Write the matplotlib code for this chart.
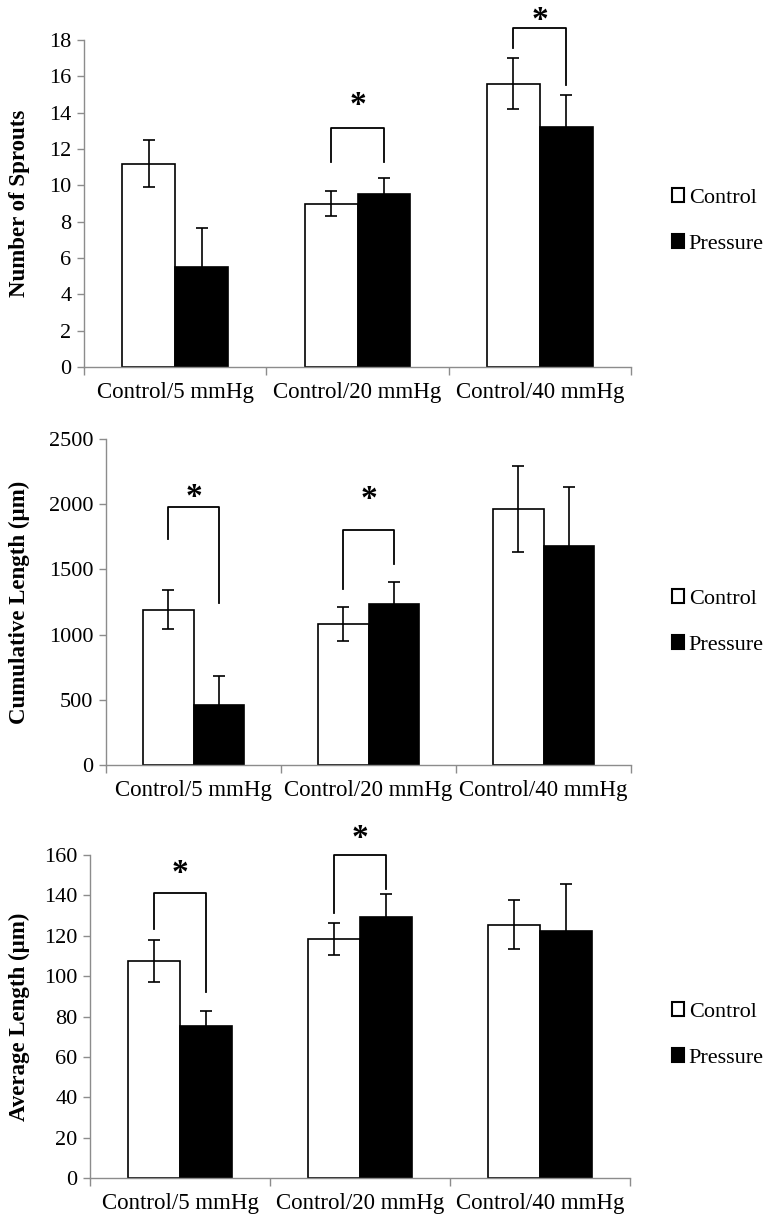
import matplotlib
matplotlib.use("Agg")
import matplotlib.pyplot as plt
from matplotlib.patches import Patch
from matplotlib.transforms import blended_transform_factory

plt.rcParams['font.family'] = ['Liberation Serif', 'DejaVu Serif']

groups = ['Control/5 mmHg', 'Control/20 mmHg', 'Control/40 mmHg']

# number of sprouts
sprouts_ctrl = [11.2, 9.0, 15.6]
sprouts_ctrl_err = [1.3, 0.7, 1.4]
sprouts_pres = [5.5, 9.55, 13.2]
sprouts_pres_err = [2.15, 0.85, 1.75]

# cumulative length (um)
cum_ctrl = [1190, 1080, 1960]
cum_ctrl_err = [150, 130, 330]
cum_pres = [460, 1235, 1680]
cum_pres_err = [225, 165, 450]

# average length (um)
avg_ctrl = [107.5, 118.5, 125.5]
avg_ctrl_err = [10.3, 8, 12]
avg_pres = [75.5, 129.5, 122.5]
avg_pres_err = [7.2, 11, 23]

# significance brackets: (group, bracket top, left leg end, right leg end, star y)
sprouts_sig = [(1, 13.15, 11.3, 11.3, 14.7), (2, 18.65, 17.55, 15.5, 19.4)]
cum_sig = [(0, 1980, 1730, 1245, 2100), (1, 1805, 1350, 1545, 2085)]
avg_sig = [(0, 141, 123.5, 92, 154), (1, 160, 131.3, 143.3, 171)]

W, H = 768, 1224
fig = plt.figure(figsize=(W / 100, H / 100), dpi=100)

gray = '#8c8c8c'
bw = 0.29

# pixel boxes: left, right, top, bottom ; y range ; y step ; label ; legend center y
panels = [
    ((84, 631, 40, 367), 18, 2, 'Number of Sprouts', 221,
     sprouts_ctrl, sprouts_ctrl_err, sprouts_pres, sprouts_pres_err, sprouts_sig),
    ((106, 631, 439, 765), 2500, 500, 'Cumulative Length (µm)', 622,
     cum_ctrl, cum_ctrl_err, cum_pres, cum_pres_err, cum_sig),
    ((90, 630, 855, 1178), 160, 20, 'Average Length (µm)', 1035,
     avg_ctrl, avg_ctrl_err, avg_pres, avg_pres_err, avg_sig),
]

for box, ymax, step, ylab, leg_y, ctrl, ctrl_err, pres, pres_err, sig in panels:
    l, r, t, b = box
    ax = fig.add_axes([l / W, 1 - b / H, (r - l) / W, (b - t) / H])
    x = list(range(len(groups)))
    xc = [i - bw / 2 for i in x]
    xp = [i + bw / 2 for i in x]

    ax.bar(xc, ctrl, bw, color='white', edgecolor='black', linewidth=1.2, zorder=2)
    ax.bar(xp, pres, bw, color='black', edgecolor='black', linewidth=1.2, zorder=2)
    ax.errorbar(xc, ctrl, yerr=ctrl_err, fmt='none', ecolor='black',
                elinewidth=1.2, capsize=4, capthick=1.2, zorder=3)
    ax.errorbar(xp, pres, yerr=pres_err, fmt='none', ecolor='black',
                elinewidth=1.2, capsize=4, capthick=1.2, zorder=3)

    for g, top, yl, yr, ys in sig:
        ax.plot([xc[g], xc[g], xp[g], xp[g]], [yl, top, top, yr],
                color='black', lw=1.3, clip_on=False, zorder=4)
        ax.annotate('*', xy=(g, ys), xytext=(0, -6), textcoords='offset pixels',
                    ha='center', va='center', fontsize=24, fontweight='bold',
                    annotation_clip=False)

    ax.set_xlim(-0.5, 2.5)
    ax.set_ylim(0, ymax)
    ax.set_yticks(range(0, ymax + 1, step))
    ax.set_xticks(x)
    ax.set_xticklabels(groups, fontsize=16.5)
    ax.set_xticks([-0.5, 0.5, 1.5, 2.5], minor=True)
    ax.tick_params(axis='x', which='major', length=0, pad=11)
    ax.tick_params(axis='x', which='minor', length=6, color=gray, width=1)
    ax.tick_params(axis='y', length=5, color=gray, width=1, labelsize=16, pad=4)

    for s in ['top', 'right']:
        ax.spines[s].set_visible(False)
    for s in ['left', 'bottom']:
        ax.spines[s].set_color(gray)
        ax.spines[s].set_linewidth(1)

    ax.set_ylabel(ylab, fontsize=16.5, fontweight='bold')
    ax.yaxis.set_label_coords(30 / W, 0.5,
                              transform=blended_transform_factory(fig.transFigure, ax.transAxes))

    handles = [Patch(facecolor='white', edgecolor='black', linewidth=1.5),
               Patch(facecolor='black', edgecolor='black', linewidth=1.5)]
    ax.legend(handles, ['Control', 'Pressure'], loc='center left',
              bbox_to_anchor=(672 / W, 1 - leg_y / H), bbox_transform=fig.transFigure,
              frameon=False, fontsize=16, handlelength=0.55, handleheight=0.55,
              handletextpad=0.2, labelspacing=1.2, borderpad=0, borderaxespad=0)

fig.savefig('out.png', dpi=100)
